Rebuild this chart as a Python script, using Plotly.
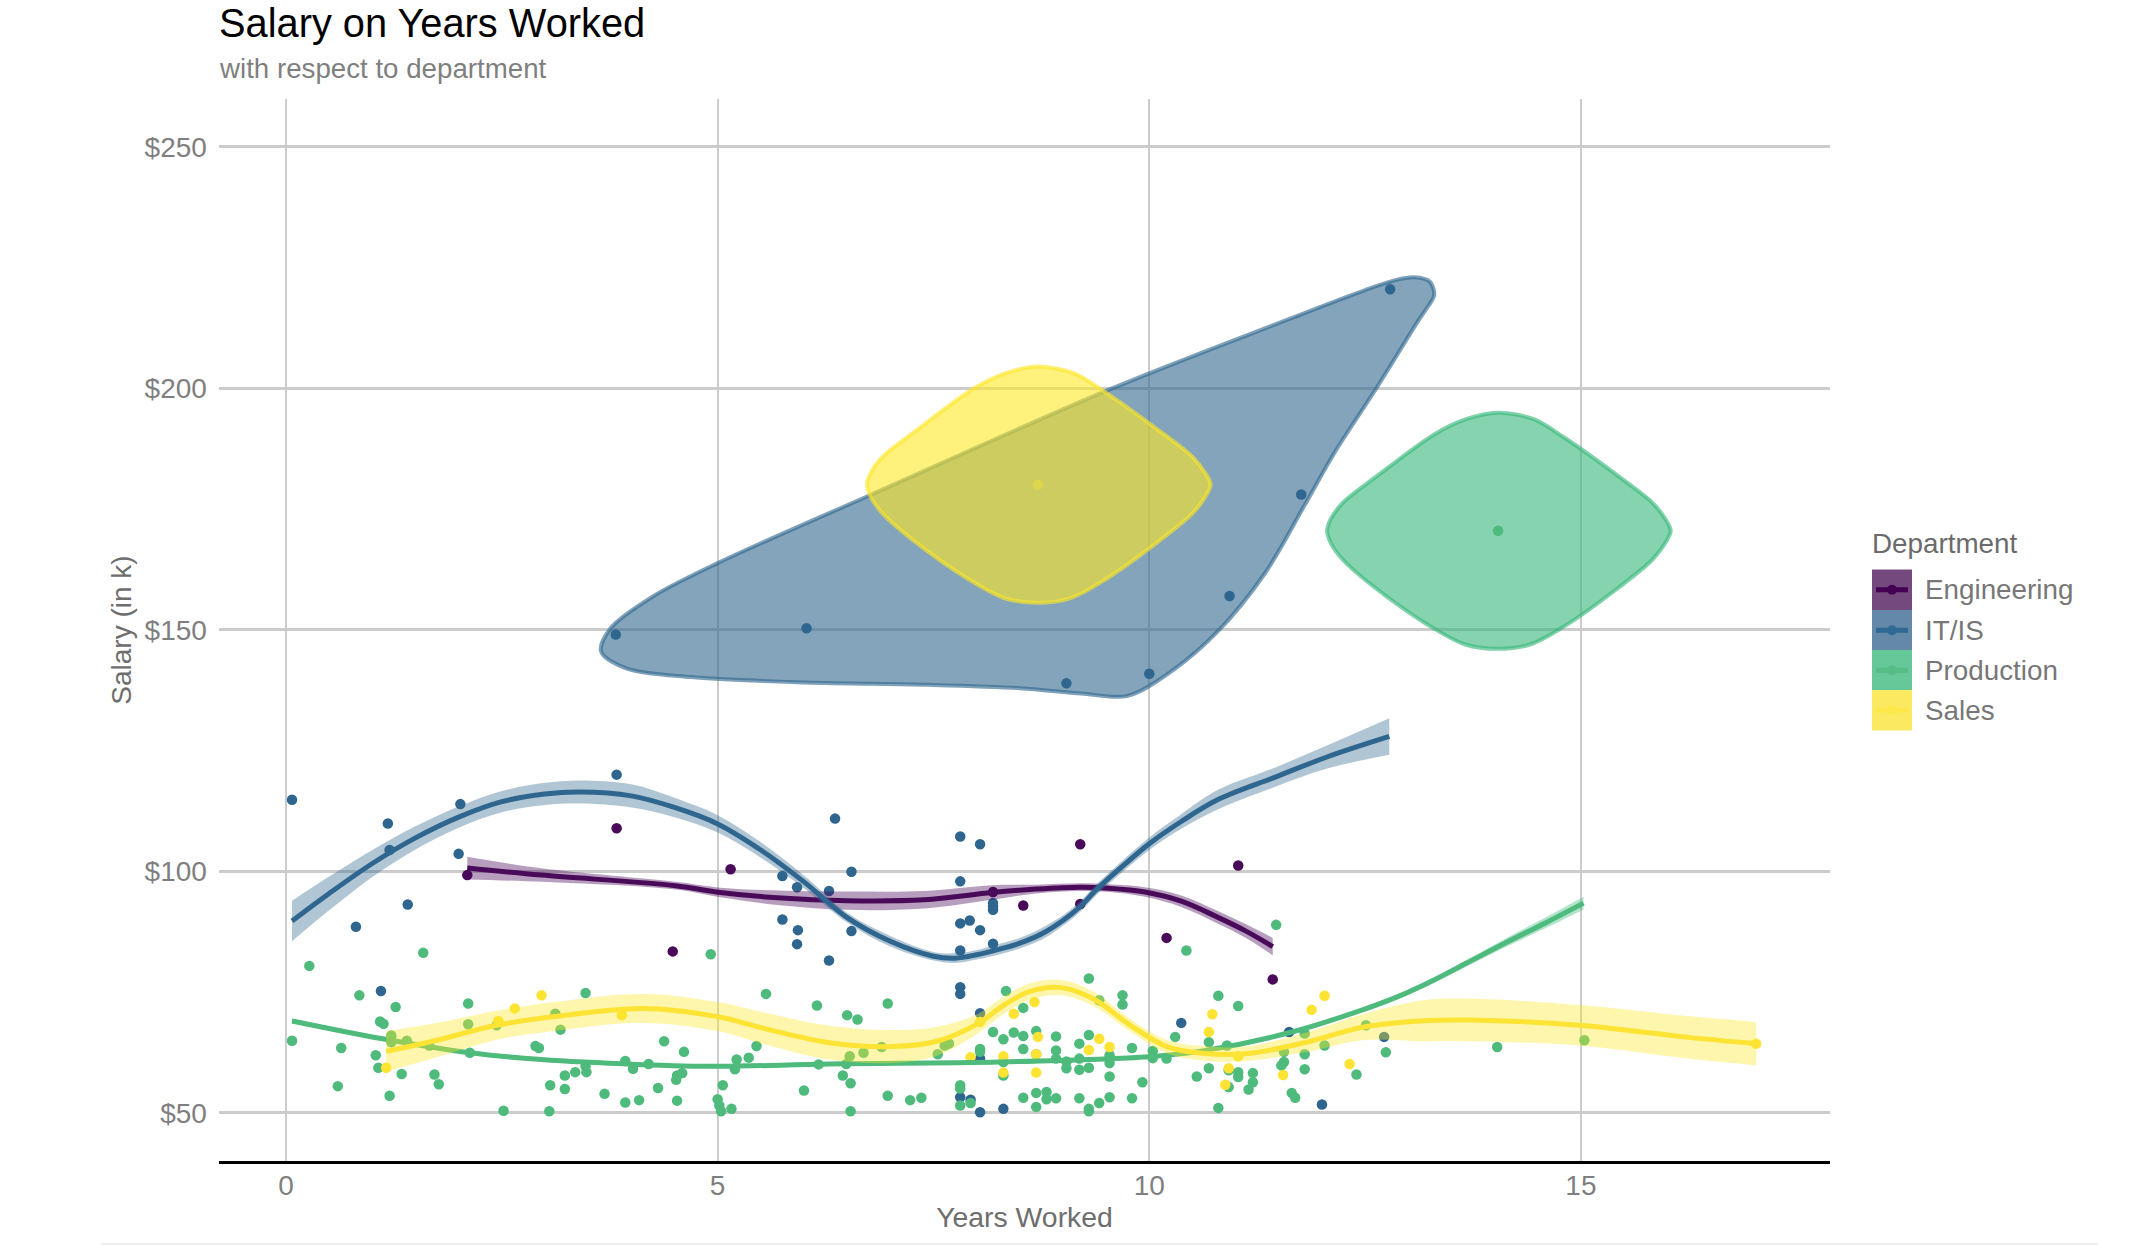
import plotly.graph_objects as go

# ---------- scatter points (years worked, salary in $k) ----------
eng_x = [2.1, 3.83, 5.15, 4.48, 8.19, 8.54, 9.2, 9.2, 11.03, 10.2, 11.43]
eng_y = [99.2, 108.9, 100.4, 83.4, 95.7, 92.9, 105.6, 93.2, 101.2, 86.2, 77.6]

it_x = [0.07, 1.18, 2.02, 1.2, 2.0, 1.41, 0.81, 3.83, 5.75, 5.92, 6.29, 6.55, 6.36, 5.75, 5.93, 6.55, 5.92, 6.29,
        7.81, 8.04, 7.81, 7.92, 7.81, 8.04, 8.19, 8.19, 8.19, 8.19, 7.81, 7.81, 7.81, 8.04, 1.1, 8.04, 7.81, 7.93,
        8.04, 8.31, 10.37, 11.62, 12.0, 12.72,
        3.82, 6.03, 9.04, 10.0, 10.93, 11.76, 12.79]
it_y = [114.8, 109.9, 113.9, 104.4, 103.6, 93.1, 88.5, 120.0, 99.0, 96.7, 95.9, 99.9, 110.9, 90.0, 87.8, 87.6, 84.9, 81.5,
        107.2, 105.6, 97.9, 89.8, 89.2, 87.8, 93.4, 92.7, 92.0, 85.0, 83.6, 76.0, 74.6, 70.6, 75.2, 61.2, 53.2, 52.7,
        50.1, 50.8, 68.6, 66.7, 51.7, 65.7,
        149.0, 150.3, 138.9, 140.9, 157.0, 178.0, 220.5]

prod_x = [0.07, 0.64, 0.6, 0.85, 1.04, 1.07, 1.09, 1.13, 1.27, 1.22, 1.22, 1.2, 1.34, 1.4, 1.66, 1.72, 1.77, 2.11, 2.11,
          2.13, 2.52, 2.44, 2.89, 2.93, 3.06, 3.05, 3.12, 3.18, 3.23, 3.23, 3.35, 3.47, 3.47, 3.48, 3.69, 3.93, 3.93,
          4.02, 4.09, 4.2, 4.31, 4.38, 4.61, 4.53, 4.52, 4.59, 4.53, 5.06, 5.0, 5.02, 5.04, 5.16, 5.2, 5.22, 5.36, 5.45,
          5.56, 6.0, 6.15, 6.17, 6.45, 6.5, 6.62, 6.54, 6.54, 6.49, 6.53, 6.69, 1.59, 0.27, 4.92,
          6.97, 6.9, 6.97, 7.23, 7.36, 7.55, 7.63, 7.68, 7.81, 7.81, 7.81, 7.93, 8.04, 8.04, 8.19, 8.34, 8.31, 8.31, 8.31,
          8.43, 8.54, 8.54, 8.54, 8.54, 8.69, 8.69, 8.69, 8.69, 8.81, 8.81, 8.92, 8.92, 8.92, 8.92, 9.04, 9.04, 9.19, 9.19,
          9.19, 9.19, 9.3, 9.3, 9.3, 9.3, 9.3, 9.42, 9.42, 9.54, 9.54, 9.54, 9.54, 9.69, 9.69, 9.8, 9.8, 9.92, 10.04, 10.04,
          10.2, 10.3, 10.55, 10.69, 10.69, 10.8, 10.8, 10.9, 10.92, 10.92, 11.03, 11.03, 11.03, 11.2, 11.2, 11.15, 11.56,
          11.56, 11.53, 11.65, 11.69, 11.8, 11.8, 11.8, 12.03, 12.4, 12.51, 12.74, 11.47, 10.43, 14.03, 15.04, 14.04]
prod_y = [64.9, 63.4, 55.5, 74.3, 61.9, 59.3, 68.9, 68.4, 71.9, 66.0, 64.6, 53.5, 58.0, 64.9, 63.9, 57.9, 55.9, 72.6, 68.3,
          62.4, 50.4, 68.1, 63.8, 63.4, 55.7, 50.3, 70.5, 67.2, 54.9, 57.7, 58.4, 74.8, 59.6, 58.4, 53.9, 60.7, 52.1,
          59.1, 52.6, 60.1, 55.1, 64.8, 62.6, 57.7, 56.8, 58.2, 52.5, 55.7, 52.8, 51.5, 50.3, 50.8, 59.0, 61.0, 61.4, 63.8,
          74.6, 54.6, 72.2, 60.0, 57.7, 70.2, 69.3, 56.1, 50.3, 60.1, 61.7, 62.4, 83.1, 80.4, 82.8,
          72.6, 63.6, 53.5, 52.6, 53.1, 62.1, 63.9, 64.3, 55.7, 55.0, 51.5, 52.0, 63.2, 62.6, 66.7, 75.2, 65.2, 60.5, 57.7,
          66.6, 65.9, 63.2, 71.7, 53.1, 66.9, 62.1, 54.1, 51.2, 54.3, 52.8, 65.8, 62.9, 61.2, 53.0, 60.6, 59.2, 64.3, 61.2,
          58.9, 53.0, 66.1, 77.8, 59.3, 50.8, 50.3, 73.3, 52.0, 61.9, 60.3, 57.5, 53.2, 74.3, 72.4, 63.4, 53.0, 56.3, 62.8, 61.3,
          61.2, 65.7, 57.5, 64.6, 59.2, 74.2, 51.0, 63.9, 55.3, 58.8, 72.1, 58.4, 57.4, 58.2, 56.3, 54.8, 62.6,
          60.5, 59.8, 54.1, 53.1, 66.4, 62.1, 59.0, 63.9, 57.9, 68.1, 62.5, 88.9, 83.6, 63.6, 65.0, 170.5]

sales_x = [2.96, 2.65, 2.46, 1.16, 3.89, 7.93, 8.04, 8.31, 8.31, 8.43, 8.67, 8.71, 8.69, 8.69, 9.3, 9.42, 9.54, 10.73, 10.69,
           11.03, 10.92, 10.88, 11.55, 11.88, 12.03, 12.32, 17.03]
sales_y = [74.3, 71.6, 69.0, 59.3, 70.2, 61.5, 68.8, 61.7, 58.3, 70.5, 72.9, 65.7, 62.1, 58.3, 63.0, 65.3, 63.6, 70.4, 66.7,
           61.7, 59.2, 55.8, 57.8, 71.3, 74.2, 60.1, 64.3]
sales_top_x = [8.71]
sales_top_y = [180.0]

# ---------- smoothers: x, fit, band upper, band lower ----------
it_sx = [0.07, 0.5, 1.0, 1.5, 2.0, 2.5, 3.0, 3.4, 4.0, 4.5, 5.0, 5.5, 6.0, 6.5, 7.0, 7.5, 7.75, 8.0, 8.27, 8.5, 8.75, 9.0, 9.2,
         9.4, 9.7, 10.0, 10.37, 10.79, 11.46, 12.05, 12.78]
it_fit = [89.7, 95.4, 101.6, 106.9, 111.2, 114.4, 116.0, 116.4, 115.6, 113.2, 109.8, 104.4, 97.8, 90.4, 85.5, 82.4, 82.0, 82.7,
          83.9, 85.1, 87.0, 89.8, 92.7, 96.4, 101.2, 105.7, 110.3, 114.8, 119.5, 123.6, 127.9]
it_hi = [93.9, 98.9, 104.4, 109.3, 113.4, 116.6, 118.3, 118.8, 118.0, 115.2, 111.6, 106.0, 99.1, 91.4, 86.6, 83.3, 83.0, 83.7,
         85.0, 86.2, 88.2, 90.9, 93.8, 97.5, 102.4, 107.0, 111.8, 116.8, 121.5, 126.0, 131.7]
it_lo = [85.5, 91.9, 98.8, 104.5, 109.0, 112.2, 113.7, 114.0, 113.2, 111.2, 108.0, 102.8, 96.5, 89.4, 84.4, 81.5, 81.0, 81.7,
         82.8, 84.0, 85.8, 88.7, 91.6, 95.3, 100.0, 104.4, 108.8, 112.8, 117.5, 121.2, 124.1]

eng_sx = [2.1, 2.96, 4.51, 5.03, 5.69, 6.5, 7.39, 8.18, 8.69, 9.19, 9.53, 9.95, 10.37, 10.79, 11.12, 11.43]
eng_fit = [100.65, 99.2, 97.0, 95.6, 94.5, 93.9, 94.1, 95.6, 96.3, 96.7, 96.5, 95.7, 93.8, 90.5, 87.6, 84.4]
eng_hi = [103.0, 100.6, 97.8, 96.6, 96.0, 95.8, 95.9, 97.1, 97.2, 97.5, 97.3, 96.7, 95.0, 91.8, 89.0, 86.2]
eng_lo = [98.3, 97.8, 96.2, 94.6, 93.0, 92.0, 92.3, 94.1, 95.4, 95.9, 95.7, 94.7, 92.6, 89.2, 86.2, 82.6]

prod_sx = [0.07, 1.12, 2.13, 2.96, 4.07, 5.0, 6.29, 8.27, 10.0, 10.62, 11.63, 12.47, 12.9, 13.3, 13.7, 14.14, 14.6, 15.03]
prod_fit = [69.0, 65.3, 62.4, 61.0, 60.0, 59.6, 60.1, 60.5, 61.6, 62.8, 66.6, 71.3, 74.2, 77.5, 81.2, 85.3, 89.4, 93.4]
prod_hi = [69.5, 65.7, 62.8, 61.4, 60.4, 60.0, 60.5, 60.9, 62.0, 63.2, 67.0, 71.7, 74.7, 78.1, 81.9, 86.2, 90.5, 94.7]
prod_lo = [68.5, 64.9, 62.0, 60.6, 59.6, 59.2, 59.7, 60.1, 61.2, 62.4, 66.2, 70.9, 73.7, 76.9, 80.5, 84.4, 88.3, 92.1]

sales_sx = [1.16, 1.7, 2.44, 3.11, 4.14, 5.0, 5.55, 6.29, 7.02, 7.54, 8.02, 8.27, 8.6, 8.98, 9.36, 9.78, 10.2, 10.62, 11.12, 11.8,
            12.47, 13.14, 13.72, 14.98, 16.24, 17.03]
sales_fit = [62.7, 64.8, 68.1, 69.9, 71.6, 69.9, 67.4, 64.5, 63.7, 64.8, 68.5, 71.7, 75.0, 75.9, 73.5, 68.1, 63.7, 62.3, 62.2, 64.5,
             67.7, 69.0, 69.2, 68.1, 65.6, 64.3]
sales_hi = [66.9, 68.4, 71.1, 72.9, 74.6, 72.9, 70.7, 68.0, 67.1, 67.8, 70.5, 73.5, 76.7, 77.5, 75.0, 69.4, 65.1, 63.8, 63.7, 66.5,
            70.4, 73.2, 73.6, 72.3, 70.0, 68.8]
sales_lo = [58.5, 61.2, 65.1, 66.9, 68.6, 66.9, 64.1, 61.0, 60.3, 61.8, 66.5, 69.9, 73.3, 74.3, 72.0, 66.8, 62.3, 60.8, 60.7, 62.5,
            65.0, 64.8, 64.8, 63.9, 61.2, 59.8]

# ---------- encircled outlier groups (each outline starts on a straight side) ----------
it_hull_x = [9.48, 11.34, 12.5, 12.85, 13.07, 13.25, 13.3, 13.2, 13.12, 12.63, 12.14, 11.79, 11.34, 10.81, 10.28, 9.75, 9.21, 8.5,
             7.44, 6.02, 4.69, 3.94, 3.65, 3.76, 4.25, 5.0, 6.73]
it_hull_y = [199.3, 212.4, 220.35, 222.4, 222.97, 222.07, 219.3, 216.2, 214.1, 200.0, 186.5, 175.5, 161.7, 149.96, 141.7, 136.3,
             136.8, 137.9, 138.6, 139.1, 140.2, 142.0, 145.5, 150.3, 156.9, 163.8, 177.6]
sales_hull_x = [10.1, 10.5, 10.65, 10.71, 10.65, 10.5, 10.1, 9.48, 9.08, 8.71, 8.33, 7.89, 7.26, 6.91, 6.77, 6.73, 6.77, 6.91, 7.31,
                7.97, 8.33, 8.71, 9.13, 9.48]
sales_hull_y = [191.4, 185.8, 182.4, 180.05, 177.6, 174.1, 168.2, 160.3, 156.5, 155.6, 156.5, 160.65, 168.6, 174.1, 177.6, 180.05,
                182.4, 185.8, 191.4, 200.0, 203.1, 204.5, 203.1, 199.3]
prod_hull_x = [15.43, 15.83, 15.98, 16.04, 15.98, 15.83, 15.43, 14.81, 14.41, 14.04, 13.66, 13.22, 12.59, 12.24, 12.1, 12.06, 12.1,
               12.24, 12.64, 13.3, 13.66, 14.04, 14.46, 14.81]
prod_hull_y = [181.85, 176.25, 172.85, 170.5, 168.05, 164.55, 158.65, 150.75, 146.95, 146.05, 146.95, 151.1, 159.05, 164.55, 168.05,
               170.5, 172.85, 176.25, 181.85, 190.45, 193.55, 194.95, 193.55, 189.75]

departments = ["Engineering", "IT/IS", "Production", "Sales"]
x_ticks = [0, 5, 10, 15]
y_ticks = [50, 100, 150, 200, 250]
y_tick_labels = ["$50", "$100", "$150", "$200", "$250"]

RGB = {"Engineering": (68, 1, 84), "IT/IS": (49, 104, 142), "Production": (53, 183, 121), "Sales": (253, 231, 37)}
MARK = {"Engineering": "#4A0A5A", "IT/IS": "#2F668F", "Production": "#4EBA7C", "Sales": "#FDE333"}
KEY = {"Engineering": "#744A7E", "IT/IS": "#6489A8", "Production": "#66C898", "Sales": "#FCE962"}
KEY_LINE = {"Engineering": "#440154", "IT/IS": "#2F6A95", "Production": "#55BD85", "Sales": "#FDE84A"}
FONT = "Liberation Sans"

def rgba(name, a):
    r, g, b = RGB[name]
    return f"rgba({r},{g},{b},{a})"

W, H = 2136, 1248
L, R, T, B = 219, 306, 99, 87
PW, PH = W - L - R, H - T - B

def px(v):
    return (v - L) / PW

def py(v):
    return 1 - (v - T) / PH

fig = go.Figure()

# encircled outliers
for name, hx, hy in [("IT/IS", it_hull_x, it_hull_y), ("Production", prod_hull_x, prod_hull_y), ("Sales", sales_hull_x, sales_hull_y)]:
    fig.add_trace(go.Scatter(x=hx + hx[:1], y=hy + hy[:1], mode="lines", fill="toself", fillcolor=rgba(name, 0.6),
                             line=dict(color=rgba(name, 0.62), width=4, shape="spline", smoothing=0.9),
                             showlegend=False, hoverinfo="skip"))

# points
for name, xs, ys in [("IT/IS", it_x, it_y), ("Production", prod_x, prod_y), ("Sales", sales_x, sales_y), ("Engineering", eng_x, eng_y)]:
    fig.add_trace(go.Scatter(x=xs, y=ys, mode="markers", name=name, showlegend=False,
                             marker=dict(color=MARK[name], size=10.5, line=dict(width=0))))
fig.add_trace(go.Scatter(x=sales_top_x, y=sales_top_y, mode="markers", name="Sales", showlegend=False,
                         marker=dict(color=rgba("Sales", 0.35), size=10.5, line=dict(width=0))))

# smoothers
for name, sx, fit, hi, lo in [("Engineering", eng_sx, eng_fit, eng_hi, eng_lo), ("IT/IS", it_sx, it_fit, it_hi, it_lo),
                              ("Production", prod_sx, prod_fit, prod_hi, prod_lo), ("Sales", sales_sx, sales_fit, sales_hi, sales_lo)]:
    fig.add_trace(go.Scatter(x=sx, y=lo, mode="lines", line=dict(width=0, shape="spline", smoothing=1.0),
                             showlegend=False, hoverinfo="skip"))
    fig.add_trace(go.Scatter(x=sx, y=hi, mode="lines", fill="tonexty", fillcolor=rgba(name, 0.38),
                             line=dict(width=0, shape="spline", smoothing=1.0), showlegend=False, hoverinfo="skip"))
    fig.add_trace(go.Scatter(x=sx, y=fit, mode="lines", name=name, showlegend=False,
                             line=dict(color=MARK[name], width=5, shape="spline", smoothing=1.0)))

# hand-built legend, as the reference's keys are tall filled squares with a line and dot
shapes = []
annotations = [dict(text="Department", xref="paper", yref="paper", x=px(1870), y=py(543), xanchor="left", yanchor="middle",
                    showarrow=False, font=dict(family=FONT, size=27.8, color="#6B6B6B")),
               dict(text="with respect to department", xref="paper", yref="paper", x=px(217), y=py(69), xanchor="left",
                    yanchor="middle", showarrow=False, font=dict(family=FONT, size=27.7, color="#7F7F7F"))]
KEY_TOP = [569.5, 610, 650, 690]
KEY_H = 40.5
for name, top in zip(departments, KEY_TOP):
    mid = top + KEY_H / 2
    shapes.append(dict(type="rect", xref="paper", yref="paper", x0=px(1872), x1=px(1912), y0=py(top), y1=py(top + KEY_H),
                       fillcolor=KEY[name], line=dict(width=0), layer="above"))
    shapes.append(dict(type="line", xref="paper", yref="paper", x0=px(1876), x1=px(1908), y0=py(mid), y1=py(mid),
                       line=dict(color=KEY_LINE[name], width=5), layer="above"))
    shapes.append(dict(type="circle", xref="paper", yref="paper", x0=px(1887), x1=px(1897), y0=py(mid - 5), y1=py(mid + 5),
                       fillcolor=KEY_LINE[name], line=dict(width=0), layer="above"))
    annotations.append(dict(text=name, xref="paper", yref="paper", x=px(1923), y=py(mid), xanchor="left", yanchor="middle",
                            showarrow=False, font=dict(family=FONT, size=27.8, color="#777777")))

# faint edge line at the foot of the image
shapes.append(dict(type="line", xref="paper", yref="paper", x0=px(101), x1=px(2098), y0=py(1244), y1=py(1244),
                   line=dict(color="#EEEEEE", width=2)))

fig.update_layout(
    width=W, height=H,
    margin=dict(l=L, r=R, t=T, b=B, pad=0),
    paper_bgcolor="white", plot_bgcolor="white",
    showlegend=False,
    font=dict(family=FONT, size=28, color="#7F7F7F"),
    title=dict(text="Salary on Years Worked", x=219 / W, xanchor="left", y=1 - 9 / H, yanchor="top",
               font=dict(family=FONT, size=39.8, color="#000000")),
    shapes=shapes, annotations=annotations,
    hovermode="closest",
)
fig.update_xaxes(range=[-0.776, 17.885], tickmode="array", tickvals=x_ticks, ticktext=[str(v) for v in x_ticks],
                 showgrid=True, gridcolor="#CCCCCC", gridwidth=2.2, zeroline=False,
                 showline=True, linecolor="#000000", linewidth=3, ticks="", ticklabelstandoff=-3,
                 tickfont=dict(family=FONT, size=28, color="#7F7F7F"),
                 title=dict(text="Years Worked", standoff=8, font=dict(family=FONT, size=28.4, color="#6E6E6E")))
fig.update_yaxes(range=[40, 259.9], tickmode="array", tickvals=y_ticks, ticktext=y_tick_labels,
                 showgrid=True, gridcolor="#CCCCCC", gridwidth=2.6, zeroline=False, showline=False,
                 ticks="outside", ticklen=5.5, tickcolor="rgba(0,0,0,0)",
                 tickfont=dict(family=FONT, size=28, color="#7F7F7F"),
                 title=dict(text="Salary (in k)", standoff=4, font=dict(family=FONT, size=28, color="#6E6E6E")))

fig.write_html("out.html", config=dict(displayModeBar=False),
               post_script="document.body.style.margin='0';")
